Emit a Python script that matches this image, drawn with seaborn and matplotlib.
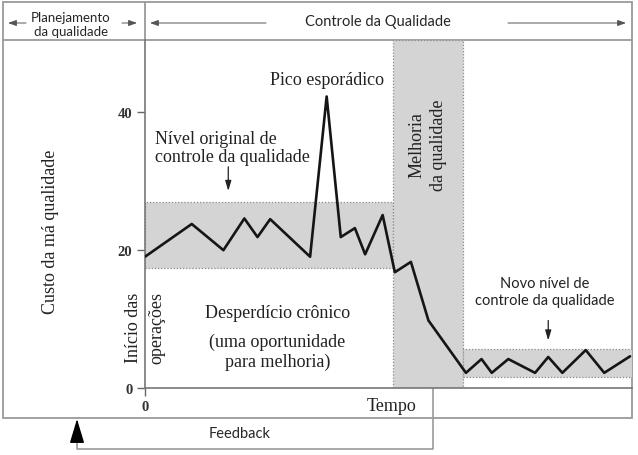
import seaborn as sns
import matplotlib.pyplot as plt
from matplotlib.patches import Rectangle
import pandas as pd

# cost of poor quality over time (Juran trilogy)
time = [0, 9.6, 16.1, 20.4, 23.1, 25.7, 33.9, 37.3, 40.2, 43.1, 45.2, 48.8,
        51.3, 54.6, 58.2, 65.9, 69.1, 71.2, 74.6, 80.1, 82.8, 85.7, 90.5,
        94.3, 99.6]
cost = [19.05, 23.8, 20.0, 24.6, 21.9, 24.5, 19.05, 42.3, 21.9, 23.2, 19.4,
        25.1, 16.8, 18.3, 9.8, 2.2, 4.2, 2.2, 4.2, 2.2, 4.5, 2.2, 5.5, 2.2, 4.6]

# shaded zones: original control band, improvement, new control band
zone_x0 = [0, 51.0, 65.2]
zone_x1 = [51.0, 65.2, 100]
zone_y0 = [17.4, 0, 1.55]
zone_y1 = [27.0, 50.5, 5.6]

y_ticks = [0, 20, 40]
x_ticks = [0]

df = pd.DataFrame({"Tempo": time, "Custo": cost})

sns.set_style("white")
SERIF = ["Liberation Serif", "DejaVu Serif"]
SANS = ["Lato", "DejaVu Sans"]

fig = plt.figure(figsize=(6.38, 4.56), dpi=100)

# background layer in pixel units for the frame, header and feedback loop
bg = fig.add_axes([0, 0, 1, 1])
bg.set_xlim(0, 638)
bg.set_ylim(456, 0)
bg.axis("off")
bg.add_patch(Rectangle((3, 3), 629, 416, fill=False, ec="#9a9a9a", lw=1.3))
bg.plot([3, 632], [41, 41], color="#9a9a9a", lw=1.3)
bg.plot([145, 145], [3, 41], color="#9a9a9a", lw=1.3)
bg.plot([433, 433, 77, 77], [389, 450, 450, 436], color="#9a9a9a", lw=1.2)
bg.annotate("", xy=(77, 420), xytext=(77, 442),
            arrowprops=dict(arrowstyle="-|>,head_width=0.45,head_length=1.5",
                            color="black", lw=1.0, shrinkA=0, shrinkB=0))
bg.text(240, 434, "Feedback", ha="center", va="center", family=SANS, fontsize=10.5)

# header
bg.text(71, 25, "Planejamento\nda qualidade", ha="center", va="center",
        family=SANS, fontsize=9.5, linespacing=1.25)
bg.text(378, 22, "Controle da Qualidade", ha="center", va="center",
        family=SANS, fontsize=10.5)
arrow_kw = dict(arrowstyle="-|>,head_width=0.18,head_length=0.5",
                color="#555555", lw=0.7, shrinkA=0, shrinkB=0)
bg.annotate("", xy=(8, 24), xytext=(26, 24), arrowprops=arrow_kw)
bg.annotate("", xy=(137, 24), xytext=(122, 24), arrowprops=arrow_kw)
bg.annotate("", xy=(150, 24), xytext=(266, 24), arrowprops=arrow_kw)
bg.annotate("", xy=(626, 24), xytext=(508, 24), arrowprops=arrow_kw)

# main chart
ax = fig.add_axes([145 / 638, (456 - 389) / 456, 487 / 638, 348 / 456])
ax.patch.set_alpha(0)

for x0, x1, y0, y1 in zip(zone_x0, zone_x1, zone_y0, zone_y1):
    ax.add_patch(Rectangle((x0, y0), x1 - x0, y1 - y0, fc="#d4d4d4",
                           ec="#8a8a8a", ls=(0, (1, 1.5)), lw=0.9, zorder=1))

sns.lineplot(data=df, x="Tempo", y="Custo", ax=ax, color="#151515",
             lw=1.9, zorder=3)

ax.set_xlim(0, 100)
ax.set_ylim(0, 50.5)
ax.set_xticks(x_ticks)
ax.set_xticklabels([str(t) for t in x_ticks])
ax.set_yticks(y_ticks)
ax.set_yticklabels([str(t) for t in y_ticks])
ax.tick_params(axis="both", length=6, width=1.0, color="#666666",
               labelsize=10.5, pad=3, direction="out", left=True, bottom=True)
for lab in ax.get_xticklabels() + ax.get_yticklabels():
    lab.set_family(SERIF)
    lab.set_color("#333333")
    lab.set_fontweight("bold")
ax.set_xlabel("")
ax.set_ylabel("")
sns.despine(ax=ax, top=True, right=True)
for s in ["left", "bottom"]:
    ax.spines[s].set_color("#777777")
    ax.spines[s].set_linewidth(1.2)

small_arrow = dict(arrowstyle="-|>,head_width=0.18,head_length=0.6",
                   color="#222222", lw=0.9, shrinkA=0, shrinkB=0)

txt = dict(family=SERIF, fontsize=13, color="#222222", clip_on=False)
ax.text(37.4, 44.7, "Pico esporádico", ha="center", va="center", **txt)
ax.text(2.0, 34.9, "Nível original de\ncontrole da qualidade", ha="left",
        va="center", linespacing=1.15, **txt)
ax.annotate("", xy=(17.1, 28.6), xytext=(17.1, 32.1), arrowprops=small_arrow)
ax.text(58.1, 35.4, "Melhoria\nda qualidade", ha="center", va="center",
        rotation=90, linespacing=1.35, **txt)
ax.text(27.2, 11.0, "Desperdício crônico", ha="center", va="center", **txt)
ax.text(27.2, 5.3, "(uma oportunidade\npara melhoria)", ha="center",
        va="center", linespacing=1.15, **txt)
ax.text(0, 8.9, "Início das\noperações", ha="center", va="center",
        rotation=90, linespacing=1.5, **txt)
ax.text(-19.5, 22.8, "Custo da má qualidade", ha="center", va="center",
        rotation=90, **txt)
ax.text(50.7, -2.6, "Tempo", ha="center", va="center", **txt)

ax.text(82.0, 14.0, "Novo nível de\ncontrole da qualidade", ha="center",
        va="center", family=SANS, fontsize=10.5, color="#222222",
        linespacing=1.2)
ax.annotate("", xy=(82.8, 6.9), xytext=(82.8, 9.8), arrowprops=small_arrow)

plt.savefig("out.png", dpi=100)
